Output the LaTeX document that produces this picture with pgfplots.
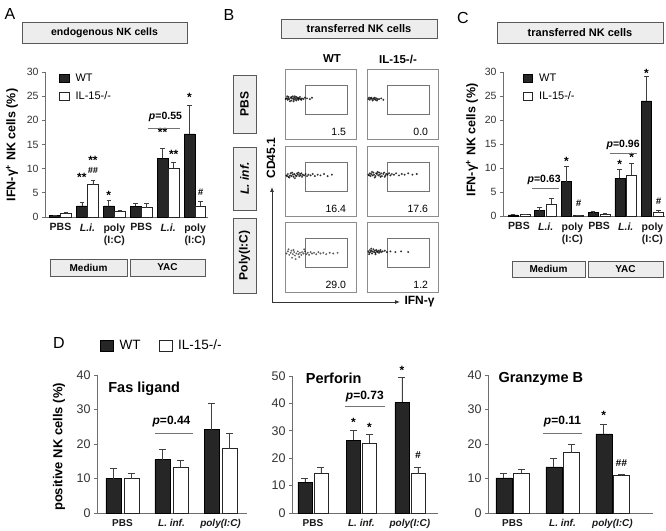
\documentclass[border=0pt]{standalone}
\usepackage{fontspec}
\setmainfont{Liberation Sans}
\usepackage{pgfplots}
\pgfplotsset{compat=1.18}
\usetikzlibrary{arrows.meta}

\definecolor{barwt}{HTML}{262626}
\definecolor{axgray}{HTML}{6E6E6E}
\definecolor{boxfill}{HTML}{EDEDED}
\newcommand{\fs}[1]{\fontsize{#1}{#1}\selectfont}

\pgfplotsset{
  barax/.style={scale only axis, anchor=south west, clip=false,
    axis x line*=bottom, axis y line*=left,
    axis line style={axgray, line width=0.8pt},
    ymin=0, tick align=outside, major tick length=3pt,
    y tick style={axgray, line width=0.8pt}, x tick style={draw=none},
    /pgf/number format/assume math mode=true,
    yticklabel style={text=black!80},
    xticklabel style={align=center, text=black!90}},
  wt/.style n args={2}{ybar, bar shift=0pt, bar width=#1, fill=barwt, draw=black,
    line width=0.5pt, forget plot,
    error bars/.cd, y dir=plus, y explicit,
    error bar style={black!75, line width=0.7pt},
    error mark options={rotate=90, mark size=#2, black!75, line width=0.7pt}},
  il/.style n args={2}{ybar, bar shift=0pt, bar width=#1, fill=white, draw=black!85,
    line width=0.7pt, forget plot,
    error bars/.cd, y dir=plus, y explicit,
    error bar style={black!75, line width=0.7pt},
    error mark options={rotate=90, mark size=#2, black!75, line width=0.7pt}},
  flowax/.style={scale only axis, anchor=south west, clip=false, width=71pt, height=70pt,
    xmin=0, xmax=100, ymin=0, ymax=100, xtick=\empty, ytick=\empty,
    axis line style={black!45, line width=0.6pt}},
  dots/.style={only marks, mark=*, mark size=0.8pt, black, opacity=0.65},
  gate/.style={black!55, line width=0.5pt, mark=none},
}

\begin{document}
\begin{tikzpicture}
\path[use as bounding box] (0pt,0pt) rectangle (666pt,530pt);

% ---------- panel labels
\node[font=\fs{16}] at (10pt,516pt) {A};
\node[font=\fs{16}] at (229pt,515pt) {B};
\node[font=\fs{16}] at (463pt,512pt) {C};
\node[font=\fs{16}] at (59pt,187pt) {D};

% ---------- header boxes
\tikzset{hbox/.style={fill=boxfill, draw=black!65, line width=0.8pt}}
\draw[hbox] (22pt,508pt) rectangle (187pt,487pt);
\node[font=\bfseries\fs{10.5}] at (104.5pt,497.5pt) {endogenous NK cells};
\draw[hbox] (281pt,511pt) rectangle (437pt,492pt);
\node[font=\bfseries\fs{11}] at (359pt,501.5pt) {transferred NK cells};
\draw[hbox] (497pt,508pt) rectangle (663pt,487pt);
\node[font=\bfseries\fs{11}] at (580pt,497.5pt) {transferred NK cells};

% Medium / YAC
\draw[hbox] (50pt,271pt) rectangle (127pt,254pt);
\node[font=\bfseries\fs{10}] at (88.5pt,262.5pt) {Medium};
\draw[hbox] (130pt,271pt) rectangle (205pt,254pt);
\node[font=\bfseries\fs{10}] at (167.5pt,262.5pt) {YAC};
\draw[hbox] (512pt,269pt) rectangle (585pt,253pt);
\node[font=\bfseries\fs{10}] at (548.5pt,261pt) {Medium};
\draw[hbox] (588pt,269pt) rectangle (663pt,253pt);
\node[font=\bfseries\fs{10}] at (625.5pt,261pt) {YAC};

% y labels
\node[rotate=90, font=\bfseries\fs{12.5}] at (12pt,385pt) {IFN-γ\textsuperscript{+} NK cells (\%)};
\node[rotate=90, font=\bfseries\fs{12.5}] at (472pt,390pt) {IFN-γ\textsuperscript{+} NK cells (\%)};
\node[rotate=90, font=\bfseries\fs{13}] at (59pt,83pt) {positive NK cells (\%)};

% ================= A
\begin{axis}[barax, at={(45pt,313pt)}, width=163pt, height=145pt,
  xmin=-0.576, xmax=5.48, ymax=30, ytick={0,5,...,30}, xtick={0,...,5},
  xticklabels={{PBS},{\textit{L.i.}},{poly\\(I:C)},{PBS},{\textit{L.i.}},{poly\\(I:C)}},
  yticklabel style={font=\fs{10.5}},
  xticklabel style={font=\bfseries\fontsize{10.5}{12.5}\selectfont},
  legend style={at={(0.085,1.0)}, anchor=north west, draw=none, fill=none,
    font=\fs{11}, inner sep=0pt, row sep=4pt, cells={anchor=west}}]
\addlegendimage{legend image code/.code={\draw[fill=barwt,draw=black,line width=0.5pt] (0pt,-4pt) rectangle (9.5pt,4pt); \path (14pt,0pt);}}
\addlegendentry{WT}
\addlegendimage{legend image code/.code={\draw[fill=white,draw=black!85,line width=0.7pt] (0pt,-4pt) rectangle (9.5pt,4pt); \path (14pt,0pt);}}
\addlegendentry{IL-15-/-}
\addplot[wt={10.5pt}{2.3pt}] coordinates {(-0.205,0.35) +- (0,0) (0.795,2.3) +- (0,0.7)
  (1.795,2.3) +- (0,1.1) (2.795,2.2) +- (0,0.7) (3.795,12.2) +- (0,2.0) (4.795,17.2) +- (0,5.8)};
\addplot[il={10.5pt}{2.3pt}] coordinates {(0.205,0.7) +- (0,0.2) (1.205,6.7) +- (0,0.9)
  (2.205,1.1) +- (0,0.25) (3.205,1.9) +- (0,0.9) (4.205,10.1) +- (0,1.3) (5.205,2.3) +- (0,1.0)};
\node[font=\bfseries\fs{12}] at (axis cs:0.795,8.2) {**};
\node[font=\bfseries\fs{12}] at (axis cs:1.205,11.7) {**};
\node[font=\bfseries\itshape\fs{9}] at (axis cs:1.205,9.7) {\#\#};
\node[font=\bfseries\fs{12}] at (axis cs:1.795,4.5) {*};
\node[font=\bfseries\fs{12}] at (axis cs:3.795,17.5) {**};
\node[font=\bfseries\fs{12}] at (axis cs:4.205,13.0) {**};
\node[font=\bfseries\fs{12}] at (axis cs:4.795,24.7) {*};
\node[font=\bfseries\itshape\fs{9.5}] at (axis cs:5.205,5.2) {\#};
\draw[black!55, line width=0.8pt] (axis cs:3.25,18.4) -- (axis cs:4.44,18.4);
\node[font=\bfseries\fs{10.5}] at (axis cs:3.9,20.8) {\textit{p}=0.55};
\end{axis}

% ================= C
\begin{axis}[barax, at={(503pt,314pt)}, width=162pt, height=144pt,
  xmin=-0.6, xmax=5.47, ymax=30, ytick={0,5,...,30}, xtick={0,...,5},
  xticklabels={{PBS},{\textit{L.i.}},{poly\\(I:C)},{PBS},{\textit{L.i.}},{poly\\(I:C)}},
  yticklabel style={font=\fs{10.5}},
  xticklabel style={font=\bfseries\fontsize{10.5}{12.5}\selectfont},
  legend style={at={(0.12,1.0)}, anchor=north west, draw=none, fill=none,
    font=\fs{11}, inner sep=0pt, row sep=4pt, cells={anchor=west}}]
\addlegendimage{legend image code/.code={\draw[fill=barwt,draw=black,line width=0.5pt] (0pt,-4pt) rectangle (9.5pt,4pt); \path (14pt,0pt);}}
\addlegendentry{WT}
\addlegendimage{legend image code/.code={\draw[fill=white,draw=black!85,line width=0.7pt] (0pt,-4pt) rectangle (9.5pt,4pt); \path (14pt,0pt);}}
\addlegendentry{IL-15-/-}
\addplot[wt={10pt}{2.3pt}] coordinates {(-0.225,0.25) +- (0,0) (0.775,1.1) +- (0,0.8)
  (1.775,7.15) +- (0,3.2) (2.775,0.8) +- (0,0.1) (3.775,7.85) +- (0,1.8) (4.775,24.0) +- (0,5.0)};
\addplot[il={10pt}{2.3pt}] coordinates {(0.225,0.25) +- (0,0.1) (1.225,2.5) +- (0,1.2)
  (2.225,0.1) +- (0,0) (3.225,0.35) +- (0,0.1) (4.225,8.5) +- (0,2.5) (5.225,0.7) +- (0,0.5)};
\node[font=\bfseries\fs{12}] at (axis cs:1.775,11.3) {*};
\node[font=\bfseries\itshape\fs{9.5}] at (axis cs:2.225,2.7) {\#};
\node[font=\bfseries\fs{12}] at (axis cs:3.775,10.8) {*};
\node[font=\bfseries\fs{12}] at (axis cs:4.225,12.2) {*};
\node[font=\bfseries\fs{12}] at (axis cs:4.775,29.8) {*};
\node[font=\bfseries\itshape\fs{9.5}] at (axis cs:5.225,3.1) {\#};
\draw[black!55, line width=0.8pt] (axis cs:0.49,5.8) -- (axis cs:1.5,5.8);
\node[font=\bfseries\fs{10.5}] at (axis cs:0.94,7.6) {\textit{p}=0.63};
\draw[black!55, line width=0.8pt] (axis cs:3.41,13.0) -- (axis cs:4.42,13.0);
\node[font=\bfseries\fs{10.5}] at (axis cs:3.9,14.9) {\textit{p}=0.96};
\end{axis}

% ================= B (flow plots)
\node[font=\bfseries\fs{11.5}] at (332pt,471pt) {WT};
\node[font=\bfseries\fs{11.5}] at (398pt,471pt) {IL-15-/-};
\draw[hbox] (233pt,455pt) rectangle (256pt,397pt);
\node[rotate=90, font=\bfseries\fs{12}] at (244.5pt,426pt) {PBS};
\draw[hbox] (233pt,383pt) rectangle (256pt,320pt);
\node[rotate=90, font=\bfseries\fs{12}] at (244.5pt,351.5pt) {\textit{L. inf.}};
\draw[hbox] (233pt,312pt) rectangle (256pt,237pt);
\node[rotate=90, font=\bfseries\fs{12}] at (244.5pt,274.5pt) {Poly(I:C)};
\draw[black!80, line width=0.8pt, -{Latex[length=5pt,width=4pt]}] (272pt,228pt) -- (272pt,343pt);
\draw[black!80, line width=0.8pt, -{Latex[length=5pt,width=4pt]}] (272pt,228pt) -- (400pt,228pt);
\node[rotate=90, font=\bfseries\fs{12}] at (271pt,372pt) {CD45.1};
\node[anchor=west, font=\bfseries\fs{12}] at (401pt,228pt) {IFN-γ};

% row 1 WT
\begin{axis}[flowax, at={(285pt,391pt)}]
\addplot[dots] coordinates {(2,58)(4,56)(5,60)(6,57)(8,59)(9,55)(10,58)(11,61)(12,57)(13,59)
 (14,56)(15,58)(16,60)(17,57)(18,59)(19,56)(20,58)(21,60)(22,57)(3,61)(7,54)(12,54)(16,55)
 (24,58)(26,57)(28,59)(31,58)(35,57)(38,59)(4,58)(9,60)(14,61)(19,58)(23,56)(1,57)};
\addplot[gate] coordinates {(28,36)(88,36)(88,77)(28,77)(28,36)};
\node[anchor=base east, font=\fs{10.5}] at (axis cs:91,5) {1.5};
\end{axis}
% row 1 IL
\begin{axis}[flowax, at={(367pt,391pt)}]
\addplot[dots] coordinates {(2,57)(4,56)(5,58)(7,57)(8,55)(9,58)(10,57)(12,56)(13,58)(15,57)
 (3,59)(6,59)(11,59)(14,55)(17,57)(20,58)(23,56)};
\addplot[gate] coordinates {(28,36)(88,36)(88,77)(28,77)(28,36)};
\node[anchor=base east, font=\fs{10.5}] at (axis cs:91,5) {0.0};
\end{axis}
% row 2 WT
\begin{axis}[flowax, at={(285pt,314pt)}]
\addplot[dots] coordinates {(2,58)(4,60)(5,56)(7,58)(8,61)(9,57)(11,59)(12,56)(13,60)(15,58)
 (16,57)(17,61)(18,59)(20,57)(21,60)(22,58)(24,56)(25,59)(27,58)(29,60)(31,57)(33,59)(36,58)
 (39,60)(42,57)(46,59)(50,58)(55,60)(60,57)(66,59)(6,55)(10,62)(14,54)(19,62)(23,61)(3,57)};
\addplot[gate] coordinates {(28,36)(88,36)(88,77)(28,77)(28,36)};
\node[anchor=base east, font=\fs{10.5}] at (axis cs:91,5) {16.4};
\end{axis}
% row 2 IL
\begin{axis}[flowax, at={(367pt,314pt)}]
\addplot[dots] coordinates {(2,59)(4,61)(5,57)(6,60)(8,58)(9,62)(10,59)(12,57)(13,61)(14,60)
 (16,58)(17,62)(18,59)(20,61)(21,57)(23,60)(24,62)(26,58)(27,60)(29,59)(31,61)(33,58)(35,60)
 (38,59)(41,61)(45,58)(49,60)(53,59)(58,61)(64,59)(70,60)(7,63)(11,55)(15,63)(19,56)(25,56)(3,58)};
\addplot[gate] coordinates {(28,36)(88,36)(88,77)(28,77)(28,36)};
\node[anchor=base east, font=\fs{10.5}] at (axis cs:91,5) {17.6};
\end{axis}
% row 3 WT
\begin{axis}[flowax, at={(285pt,238pt)}]
\addplot[dots, opacity=0.45] coordinates {(2,55)(4,58)(6,53)(8,56)(9,59)(11,54)(13,57)(14,52)(16,55)
 (18,58)(19,54)(21,56)(23,53)(24,57)(26,55)(28,58)(30,54)(32,56)(34,53)(36,57)(38,55)(41,56)
 (44,54)(47,57)(50,55)(54,56)(58,54)(63,56)(68,55)(74,56)(10,49)(15,47)(20,50)(12,60)(27,61)(5,61)};
\addplot[gate] coordinates {(28,36)(88,36)(88,77)(28,77)(28,36)};
\node[anchor=base east, font=\fs{10.5}] at (axis cs:91,5) {29.0};
\end{axis}
% row 3 IL
\begin{axis}[flowax, at={(367pt,238pt)}]
\addplot[dots] coordinates {(2,58)(3,56)(4,60)(5,57)(6,59)(7,55)(8,58)(9,61)(10,57)(11,59)
 (12,56)(13,60)(14,58)(15,57)(16,59)(17,56)(18,58)(19,60)(20,57)(22,58)(25,59)(28,57)(33,58)
 (40,57)(48,58)(58,57)(6,62)(12,54)(3,54)};
\addplot[gate] coordinates {(28,36)(88,36)(88,77)(28,77)(28,36)};
\node[anchor=base east, font=\fs{10.5}] at (axis cs:91,5) {1.2};
\end{axis}

% ================= D: Fas ligand
\begin{axis}[barax, at={(97pt,17pt)}, width=150pt, height=138pt,
  xmin=-0.52, xmax=2.54, ymax=40, ytick={0,10,...,40}, xtick={0,1,2},
  xticklabels={{PBS},{\textit{L. inf.}},{\textit{poly(I:C)}}},
  yticklabel style={font=\fs{12.5}},
  xticklabel style={font=\bfseries\fs{10}},
  legend columns=2,
  legend style={at={(0.02,1.27)}, anchor=north west, draw=none, fill=none,
    font=\fs{13.5}, inner sep=0pt, /tikz/every even column/.append style={column sep=16pt}}]
\addlegendimage{legend image code/.code={\draw[fill=barwt,draw=black,line width=0.5pt] (0pt,-5.5pt) rectangle (13pt,5.5pt); \path (17pt,0pt);}}
\addlegendentry{WT}
\addlegendimage{legend image code/.code={\draw[fill=white,draw=black!85,line width=0.7pt] (0pt,-5.5pt) rectangle (13pt,5.5pt); \path (17pt,0pt);}}
\addlegendentry{IL-15-/-}
\addplot[wt={15pt}{3.5pt}] coordinates {(-0.184,10) +- (0,3.0) (0.816,15.5) +- (0,3.0) (1.816,24.2) +- (0,7.6)};
\addplot[il={15pt}{3.5pt}] coordinates {(0.184,10) +- (0,1.6) (1.184,13.2) +- (0,2.1) (2.184,18.6) +- (0,4.6)};
\draw[black!55, line width=0.8pt] (axis cs:0.66,23.2) -- (axis cs:1.44,23.2);
\node[font=\bfseries\fs{12}] at (axis cs:1.0,26.6) {\textit{p}=0.44};
\node[anchor=west, font=\bfseries\fs{14.5}] at (axis cs:-0.36,36) {Fas ligand};
\end{axis}

% ================= D: Perforin
\begin{axis}[barax, at={(292pt,17pt)}, width=146pt, height=137pt,
  xmin=-0.433, xmax=2.58, ymax=50, ytick={0,10,...,50}, xtick={0,1,2},
  xticklabels={{PBS},{\textit{L. inf.}},{\textit{poly(I:C)}}},
  yticklabel style={font=\fs{12.5}},
  xticklabel style={font=\bfseries\fs{10}}]
\addplot[wt={14pt}{3.5pt}] coordinates {(-0.165,11.3) +- (0,1.3) (0.835,26.6) +- (0,3.6) (1.835,40.4) +- (0,9.1)};
\addplot[il={14pt}{3.5pt}] coordinates {(0.165,14.6) +- (0,2.2) (1.165,25.4) +- (0,3.3) (2.165,14.4) +- (0,2.1)};
\node[font=\bfseries\fs{12}] at (axis cs:0.835,33.1) {*};
\node[font=\bfseries\fs{12}] at (axis cs:1.165,31.2) {*};
\node[font=\bfseries\fs{12}] at (axis cs:1.835,51.9) {*};
\node[font=\bfseries\itshape\fs{10}] at (axis cs:2.165,21.1) {\#};
\draw[black!55, line width=0.8pt] (axis cs:0.66,38.8) -- (axis cs:1.48,38.8);
\node[font=\bfseries\fs{12}] at (axis cs:1.07,42.6) {\textit{p}=0.73};
\node[anchor=west, font=\bfseries\fs{14.5}] at (axis cs:-0.22,49) {Perforin};
\end{axis}

% ================= D: Granzyme B
\begin{axis}[barax, at={(488pt,17pt)}, width=165pt, height=138pt,
  xmin=-0.49, xmax=2.81, ymax=40, ytick={0,10,...,40}, xtick={0,1,2},
  xticklabels={{PBS},{\textit{L. inf.}},{\textit{poly(I:C)}}},
  yticklabel style={font=\fs{12.5}},
  xticklabel style={font=\bfseries\fs{10}}]
\addplot[wt={16pt}{3.5pt}] coordinates {(-0.175,10.2) +- (0,1.3) (0.825,13.4) +- (0,2.4) (1.825,22.9) +- (0,2.9)};
\addplot[il={16pt}{3.5pt}] coordinates {(0.175,11.5) +- (0,1.2) (1.175,17.5) +- (0,2.4) (2.175,10.8) +- (0,0.5)};
\node[font=\bfseries\fs{12}] at (axis cs:1.825,28.2) {*};
\node[font=\bfseries\itshape\fs{10}] at (axis cs:2.175,14.6) {\#\#};
\draw[black!55, line width=0.8pt] (axis cs:0.61,23.1) -- (axis cs:1.39,23.1);
\node[font=\bfseries\fs{12}] at (axis cs:1.0,26.6) {\textit{p}=0.11};
\node[anchor=west, font=\bfseries\fs{14.5}] at (axis cs:-0.35,39) {Granzyme B};
\end{axis}
\end{tikzpicture}
\end{document}
